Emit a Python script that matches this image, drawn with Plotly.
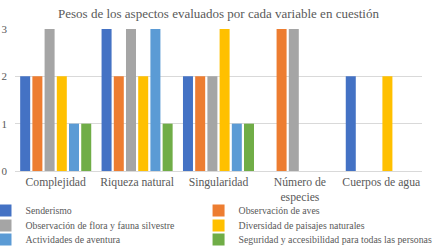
import plotly.graph_objects as go

categories = ["Complejidad", "Riqueza natural", "Singularidad", "Número de<br>especies", "Cuerpos de agua"]
series_names = [
    "Senderismo",
    "Observación de aves",
    "Observación de flora y fauna silvestre",
    "Diversidad de paisajes naturales",
    "Actividades de aventura",
    "Seguridad y accesibilidad para todas las personas",
]
senderismo = [2, 3, 2, 0, 2]
aves = [2, 2, 2, 3, 0]
flora_fauna = [3, 3, 2, 3, 0]
paisajes = [2, 2, 3, 0, 2]
aventura = [1, 3, 1, 0, 0]
seguridad = [1, 1, 1, 0, 0]
series_values = [senderismo, aves, flora_fauna, paisajes, aventura, seguridad]
colors = ["#4472C4", "#ED7D31", "#A5A5A5", "#FFC000", "#5B9BD5", "#70AD47"]
y_ticks = [0, 1, 2, 3]

FONT = "'Liberation Serif', 'Times New Roman', serif"
legend_ids = ["legend", "legend2", "legend3", "legend4", "legend5", "legend6"]
col_x = [-0.0725, 0.451]
row_y = [-0.176, -0.2817, -0.380]

fig = go.Figure()
for name, vals, c, lg in zip(series_names, series_values, colors, legend_ids):
    fig.add_trace(go.Bar(name=name, x=categories, y=vals, marker_color=c,
                         marker_line_width=0, legend=lg))

def leg(xpos, ypos):
    return dict(orientation="v", x=xpos, y=ypos, xanchor="left", yanchor="top",
                font=dict(family=FONT, size=9.8, color="#595959"),
                bgcolor="rgba(0,0,0,0)", itemwidth=30)

legends = {}
for i, lg in enumerate(legend_ids):
    legends[lg] = leg(col_x[i % 2], row_y[i // 2])

fig.update_layout(
    width=444, height=248,
    template="none",
    paper_bgcolor="white", plot_bgcolor="white",
    margin=dict(l=15, r=22, t=29, b=77, autoexpand=False),
    barmode="group", bargap=0.1, bargroupgap=0.18,
    font=dict(family=FONT, color="#595959", size=12),
    title=dict(text="Pesos de los aspectos evaluados por cada variable en cuestión",
               x=0.5, xref="paper", xanchor="center", y=0.945, yanchor="middle",
               font=dict(family=FONT, size=13, color="#595959")),
    showlegend=True,
    **legends,
)
fig.update_yaxes(range=[0, 3], tickvals=y_ticks, showgrid=True, gridcolor="#D9D9D9",
                 gridwidth=1, zeroline=False, showline=False, ticks="",
                 ticklabelstandoff=7,
                 tickfont=dict(family=FONT, size=11, color="#595959"), automargin=False)
fig.update_xaxes(showline=True, linecolor="#D9D9D9", linewidth=1, ticks="",
                 tickfont=dict(family=FONT, size=11.7, color="#595959"), automargin=False)

fig.write_html("out.html", config={"displayModeBar": False},
               post_script="document.body.style.margin='0';")
